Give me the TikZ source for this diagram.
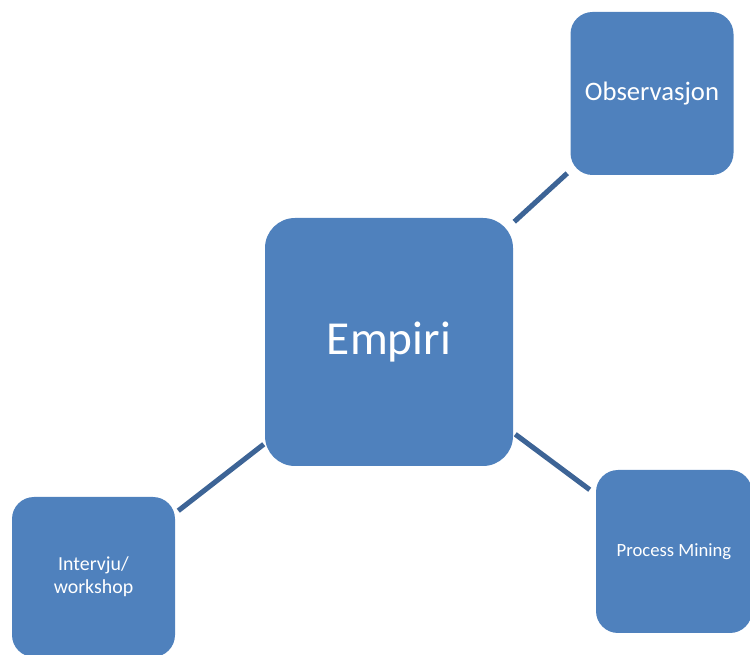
\documentclass[tikz,border=0pt]{standalone}
\usepackage{fontspec}
\setmainfont{Carlito}
\usetikzlibrary{positioning}

\definecolor{boxblue}{HTML}{4F81BD}
\definecolor{lineblue}{HTML}{3D6496}

\tikzset{
    topic/.style={fill=boxblue, text=white, rounded corners=16.5pt, minimum width=122.25pt, minimum height=122.25pt,
        inner sep=0pt, align=center},
    spoke/.style={draw=lineblue, line width=3.8pt}
}

\begin{document}
\begin{tikzpicture}[x=0.75pt, y=-0.75pt]
        \useasboundingbox (0,0) rectangle (750,655);
        \node[topic, minimum width=186pt, minimum height=186pt, rounded corners=22.5pt, font=\fontsize{35.5}{42}\selectfont] (empiri) at (389,342) {Empiri};
        \node[topic, font=\fontsize{20}{24}\selectfont] (observasjon) at (652,93.5) {Observasjon};
        \node[topic, minimum height=120pt, font=\fontsize{14.9}{17.5}\selectfont] (intervju) at (93.5,577) {Intervju/\\workshop};
        \node[topic, minimum width=117pt, font=\fontsize{14}{17}\selectfont] (mining) at (674,551.5) {Process Mining};
        \draw[spoke] ([shift={(1,4)}]empiri.north east) -- ([shift={(-3,-2)}]observasjon.south west);
        \draw[spoke] ([shift={(-1,-22)}]empiri.south west) -- ([shift={(3,14)}]intervju.north east);
        \draw[spoke] ([shift={(2,-32)}]empiri.south east) -- ([shift={(-6,20)}]mining.north west);
    \end{tikzpicture}
\end{document}
